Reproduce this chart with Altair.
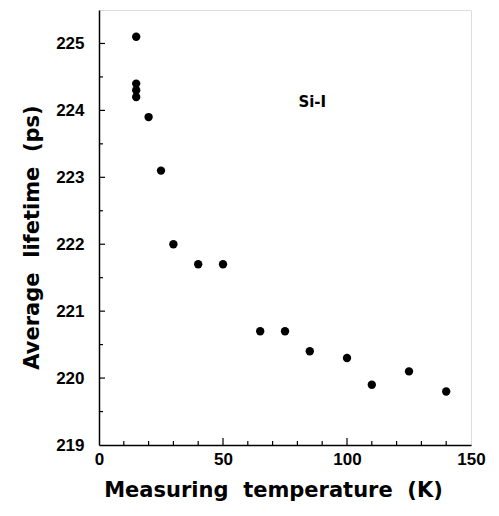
import altair as alt
import pandas as pd

temperature = [15, 15, 15, 15, 20, 25, 30, 40, 50, 65, 75, 85, 100, 110, 125, 140]
lifetime = [225.1, 224.4, 224.3, 224.2, 223.9, 223.1, 222.0, 221.7, 221.7,
            220.7, 220.7, 220.4, 220.3, 219.9, 220.1, 219.8]

label_text = ["Si-I"]
label_x = [86]
label_y = [224.13]

x_major = [0, 50, 100, 150]
x_minor = list(range(0, 151, 10))
y_major = [219, 220, 221, 222, 223, 224, 225]
y_minor = [219 + 0.5 * i for i in range(13)]

X_DOMAIN = [0, 150]
Y_DOMAIN = [219, 225.5]
W, H = 372, 435
FONT = "Liberation Sans"
TFONT = "DejaVu Sans"
SP = "\u00a0\u00a0"

df = pd.DataFrame({"t": temperature, "tau": lifetime})
lab = pd.DataFrame({"x": label_x, "y": label_y, "text": label_text})
xmaj = pd.DataFrame({"v": [v for v in x_major if 0 < v < 150]})
xmin = pd.DataFrame({"v": [v for v in x_minor if 0 < v < 150 and v not in x_major]})
ymaj = pd.DataFrame({"v": [v for v in y_major if 219 < v < 225.5]})
ymin = pd.DataFrame({"v": [v for v in y_minor if 219 < v < 225.5 and v not in y_major]})

xs = alt.Scale(domain=X_DOMAIN, nice=False, zero=False)
ys = alt.Scale(domain=Y_DOMAIN, nice=False, zero=False)

points = alt.Chart(df).mark_circle(size=70, color="black", opacity=1).encode(
    x=alt.X("t:Q", scale=xs, axis=alt.Axis(
        values=x_major, format="d", ticks=False, domain=True, domainColor="black",
        domainWidth=1.5,
        labelFont=FONT, labelFontSize=17, labelFontWeight="bold", labelColor="black",
        labelPadding=6, labelFlush=False, labelOverlap=False, grid=False,
        title=f"Measuring{SP}temperature{SP}(K)", titleFont=TFONT, titleFontSize=21,
        titleFontWeight="bold", titleColor="black", titleX=174, titleY=45,
        titleBaseline="middle", titleAlign="center")),
    y=alt.Y("tau:Q", scale=ys, axis=alt.Axis(
        values=y_major, format="d", ticks=False, domain=True, domainColor="black",
        domainWidth=1.5,
        labelFont=FONT, labelFontSize=17, labelFontWeight="bold", labelColor="black",
        labelPadding=15, labelFlush=False, labelOverlap=False, grid=False,
        title=f"Average{SP}lifetime{SP}(ps)", titleFont=TFONT, titleFontSize=21,
        titleFontWeight="bold", titleColor="black", titleX=-67, titleY=227,
        titleBaseline="middle", titleAlign="center", titleAngle=-90)),
)

xt_major = alt.Chart(xmaj).mark_rule(color="black", strokeWidth=1.2).encode(
    x=alt.X("v:Q", scale=xs), y=alt.value(H), y2=alt.value(H - 7))
xt_minor = alt.Chart(xmin).mark_rule(color="black", strokeWidth=1.2).encode(
    x=alt.X("v:Q", scale=xs), y=alt.value(H), y2=alt.value(H - 4))
yt_major = alt.Chart(ymaj).mark_rule(color="black", strokeWidth=1.2).encode(
    y=alt.Y("v:Q", scale=ys), x=alt.value(0), x2=alt.value(6))
yt_minor = alt.Chart(ymin).mark_rule(color="black", strokeWidth=1.2).encode(
    y=alt.Y("v:Q", scale=ys), x=alt.value(0), x2=alt.value(4))

text = alt.Chart(lab).mark_text(
    font=TFONT, fontSize=15, fontWeight="bold", color="black", align="center",
    baseline="middle").encode(
    x=alt.X("x:Q", scale=xs), y=alt.Y("y:Q", scale=ys), text="text:N")

chart = alt.layer(points, text, xt_major, xt_minor, yt_major, yt_minor).properties(
    width=W, height=H,
    autosize=alt.AutoSizeParams(type="none"),
    padding={"left": 91, "top": 2, "right": 20, "bottom": 63},
).configure_view(stroke="black", strokeWidth=1.5).configure(background="white")

chart.save("out.html", embed_options={"renderer": "svg", "actions": False})
